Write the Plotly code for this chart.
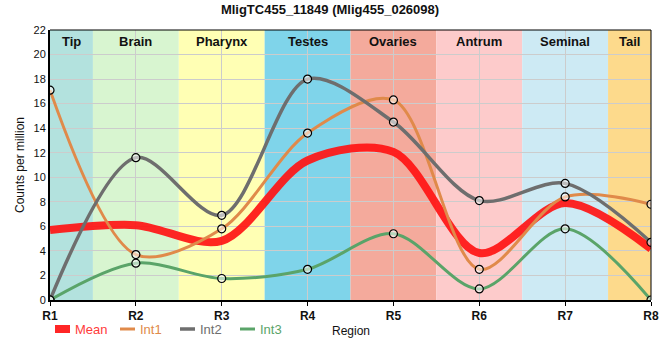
import plotly.graph_objects as go

regions = ["R1", "R2", "R3", "R4", "R5", "R6", "R7", "R8"]
int1 = [17.1, 3.7, 5.8, 13.6, 16.3, 2.5, 8.4, 7.8]
int2 = [0.0, 11.6, 6.9, 18.0, 14.5, 8.1, 9.5, 4.7]
int3 = [0.0, 3.0, 1.75, 2.5, 5.4, 0.9, 5.8, 0.0]
mean = [round((a + b + c) / 3, 3) for a, b, c in zip(int1, int2, int3)]

bands = ["Tip", "Brain", "Pharynx", "Testes", "Ovaries", "Antrum", "Seminal", "Tail"]
band_colors = ["#b3e2de", "#d8f5d0", "#ffffb4", "#7fd4ea", "#f4aa9c", "#fdcbcb", "#cdeaf4", "#fdda8c"]

x = list(range(1, len(regions) + 1))

W, H = 660, 360
ML, MR, MT, MB = 50, 9, 30, 60
PW, PH = W - ML - MR, H - MT - MB

fig = go.Figure()

# background bands
for i, (name, col) in enumerate(zip(bands, band_colors)):
    x0 = max(1, i + 0.5)
    x1 = min(len(regions), i + 1.5)
    fig.add_shape(type="rect", xref="x", yref="y", x0=x0, x1=x1, y0=0, y1=22,
                  fillcolor=col, line_width=0, layer="below")
    fig.add_annotation(x=(x0 + x1) / 2, y=1 - 12 / PH, xref="x", yref="paper", yanchor="middle",
                       text="<b>%s</b>" % name, showarrow=False,
                       font=dict(size=13, color="#111", family="Liberation Sans, Arial"))

series = [
    ("Mean", mean, "rgba(255,20,20,0.92)", 8, False, "#ff3b3b"),
    ("Int1", int1, "#e08a4a", 3, True, "#e08a4a"),
    ("Int2", int2, "#6e6e6e", 3.5, True, "#6e6e6e"),
    ("Int3", int3, "#5aa469", 3, True, "#5aa469"),
]

for name, vals, col, w, mk, tcol in series:
    fig.add_trace(go.Scatter(
        x=x, y=vals, mode="lines", name=name, showlegend=False,
        line=dict(color=col, width=w, shape="spline", smoothing=0.9)))
for name, vals, col, w, mk, tcol in series:
    if mk:
        fig.add_trace(go.Scatter(
            x=x, y=vals, mode="markers", showlegend=False, hoverinfo="skip",
            marker=dict(size=8, color="rgba(255,255,255,0.55)",
                        line=dict(color="black", width=1.2))))

# compact legend row (symbol + coloured label), like the original
legend_px = [55, 120, 180, 240]
ly = -(329 - (MT + PH)) / PH
for (name, vals, col, w, mk, tcol), px in zip(series, legend_px):
    fig.add_shape(type="line", xref="paper", yref="paper",
                  x0=(px - ML) / PW, x1=(px + 15 - ML) / PW, y0=ly, y1=ly,
                  line=dict(color=col, width=w))
    fig.add_annotation(x=(px + 18 - ML) / PW, y=ly, xref="paper", yref="paper",
                       xanchor="left", yanchor="middle", showarrow=False,
                       text=name, font=dict(size=13, color=tcol))

fig.update_layout(
    width=W, height=H,
    margin=dict(l=ML, r=MR, t=MT, b=MB, autoexpand=False),
    paper_bgcolor="white", plot_bgcolor="white",
    font=dict(family="Liberation Sans, Arial", size=12, color="#111"),
    title=dict(text="<b>MligTC455_11849 (Mlig455_026098)</b>", x=0.5, xanchor="center",
               y=1 - 9 / H, yanchor="middle", font=dict(size=13, color="#111")),
    showlegend=False,
    xaxis=dict(tickmode="array", tickvals=x, ticktext=["<b>%s</b>" % r for r in regions],
               range=[1, len(regions)], showgrid=True, gridcolor="#cccccc", gridwidth=1,
               showline=True, linecolor="black", linewidth=2, mirror=False, zeroline=False,
               ticks="outside", ticklen=4, tickcolor="black", tickfont=dict(size=12),
               automargin=False),
    yaxis=dict(range=[0, 22], dtick=2, showgrid=True, gridcolor="#cccccc", gridwidth=1,
               showline=True, linecolor="black", linewidth=2, zeroline=False,
               ticks="", tickfont=dict(size=11), automargin=False,
               title=dict(text="Counts per million", standoff=6, font=dict(size=12))),
)
fig.add_annotation(x=0.5, y=-31 / PH, xref="paper", yref="paper", yanchor="middle",
                   text="Region", showarrow=False, font=dict(size=12, color="#111"))
# thin top/right frame
fig.add_shape(type="line", xref="paper", yref="paper", x0=0, x1=1, y0=1, y1=1,
              line=dict(color="black", width=1))
fig.add_shape(type="line", xref="paper", yref="paper", x0=1, x1=1, y0=0, y1=1,
              line=dict(color="black", width=1))

fig.write_html("out.html", config={"displayModeBar": False},
               post_script="document.body.style.margin='0';")
